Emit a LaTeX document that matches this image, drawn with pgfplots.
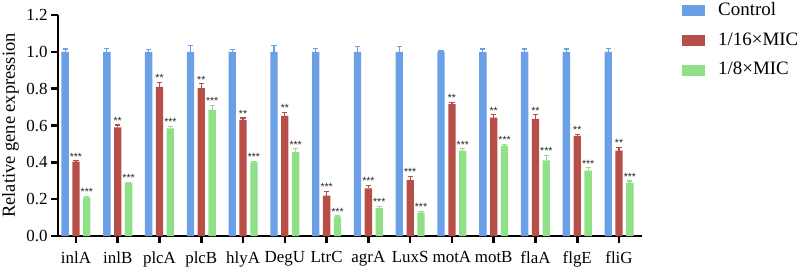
\documentclass[border=0pt]{standalone}
\usepackage{pgfplots}
\pgfplotsset{compat=1.18}
\usepackage{pgfplotstable}
\usepackage{fontspec}
\setmainfont{Liberation Serif}
\newfontfamily\starfont{Liberation Sans}
\definecolor{cblue}{HTML}{6CA0E6}
\definecolor{cred}{HTML}{B74F48}
\definecolor{cgreen}{HTML}{90E088}

\pgfplotstableread{
x  c  ce    r     re    g     ge    rl  gl
0  1  0.015 0.404 0.004 0.210 0.004 *** ***
1  1  0.020 0.590 0.013 0.288 0.004 **  ***
2  1  0.012 0.810 0.025 0.585 0.009 **  ***
3  1  0.035 0.803 0.023 0.685 0.025 **  ***
4  1  0.012 0.630 0.011 0.400 0.004 **  ***
5  1  0.035 0.652 0.020 0.455 0.018 **  ***
6  1  0.020 0.219 0.024 0.105 0.004 *** ***
7  1  0.030 0.259 0.015 0.152 0.008 *** ***
8  1  0.027 0.304 0.018 0.127 0.007 *** ***
9  1  0.005 0.716 0.010 0.464 0.009 **  ***
10 1  0.015 0.643 0.015 0.491 0.005 **  ***
11 1  0.015 0.636 0.022 0.410 0.027 **  ***
12 1  0.015 0.543 0.009 0.355 0.015 **  ***
13 1  0.020 0.464 0.016 0.290 0.009 **  ***
}\data

\begin{document}
\begin{tikzpicture}
\useasboundingbox (-58bp,-32bp) rectangle (742bp,236bp);
\begin{axis}[
  at={(0,0)}, anchor=south west,
  scale only axis, width=584bp, height=221bp,
  xmin=-0.43, xmax=13.55, ymin=0, ymax=1.2,
  axis lines=left, axis line style={-, line width=2.5bp},
  xtick={0,1,2,3,4,5,6,7,8,9,10,11,12,13},
  xticklabels={inlA,inlB,plcA,plcB,hlyA,DegU,LtrC,agrA,LuxS,motA,motB,flaA,flgE,fliG},
  ytick={0,0.2,0.4,0.6,0.8,1.0,1.2},
  minor tick num=0,
  tick align=outside, major tick length=7bp,
  tick style={line width=2.5bp, black},
  tick label style={font=\fontsize{17}{20}\selectfont},
  xticklabel style={yshift=-5bp},
  /pgf/number format/assume math mode=true,
  yticklabel style={/pgf/number format/.cd, fixed, fixed zerofill, precision=1},
  ylabel={Relative gene expression},
  ylabel style={font=\fontsize{18.5}{22}\selectfont, at={([xshift=-43bp]rel axis cs:0,0.5)}, anchor=base},
  legend style={at={(rel axis cs:1.0685,1.0575)}, anchor=north west, draw=none, fill=none,
    inner sep=0pt, column sep=13bp, row sep=12.7bp,
    nodes={inner sep=0pt, text height=13bp, text depth=4bp, font=\fontsize{19}{22}\selectfont}},
  legend cell align=left,
  legend image code/.code={\fill[#1] (0bp,-5.5bp) rectangle (23bp,5.5bp);},
  error bars/y dir=plus, error bars/y explicit,
]
\addplot[ybar, bar width=0.175, bar shift=0, fill=cblue, draw=none,
  error bars/error bar style={line width=1.2bp, cblue},
  error bars/error mark options={rotate=90, mark size=2.6bp, line width=1.2bp, cblue}]
  table[x expr=\thisrow{x}-0.26, y=c, y error=ce]{\data};
\addlegendentry{Control}
\addplot[ybar, bar width=0.175, bar shift=0, fill=cred, draw=none,
  error bars/error bar style={line width=1.2bp, cred},
  error bars/error mark options={rotate=90, mark size=2.6bp, line width=1.2bp, cred}]
  table[x=x, y=r, y error=re]{\data};
\addlegendentry{1/16×MIC}
\addplot[ybar, bar width=0.175, bar shift=0, fill=cgreen, draw=none,
  error bars/error bar style={line width=1.2bp, cgreen},
  error bars/error mark options={rotate=90, mark size=2.6bp, line width=1.2bp, cgreen}]
  table[x expr=\thisrow{x}+0.26, y=g, y error=ge]{\data};
\addlegendentry{1/8×MIC}
\addplot[forget plot, draw=none, mark=none, nodes near coords, point meta=explicit symbolic,
  every node near coord/.append style={font=\starfont\fontsize{10.5}{12}\selectfont, inner sep=0pt, anchor=south, yshift=0.5bp, text=black!85}]
  table[x=x, y expr=\thisrow{r}+\thisrow{re}, meta=rl]{\data};
\addplot[forget plot, draw=none, mark=none, nodes near coords, point meta=explicit symbolic,
  every node near coord/.append style={font=\starfont\fontsize{10.5}{12}\selectfont, inner sep=0pt, anchor=south, yshift=0.5bp, text=black!85}]
  table[x expr=\thisrow{x}+0.26, y expr=\thisrow{g}+\thisrow{ge}, meta=gl]{\data};
\end{axis}
\end{tikzpicture}
\end{document}
